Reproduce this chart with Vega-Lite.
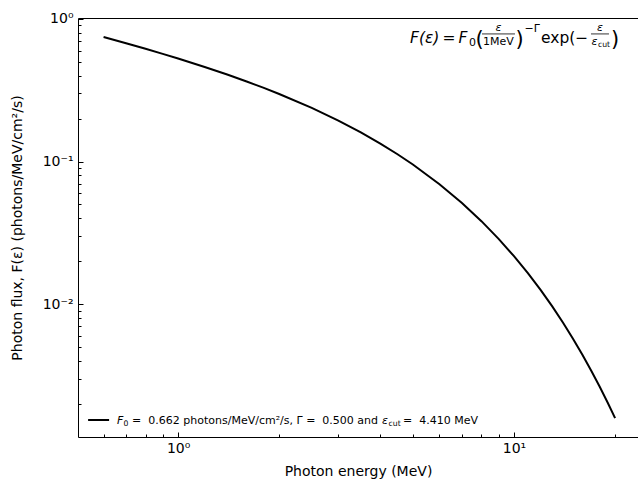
{
  "$schema": "https://vega.github.io/schema/vega-lite/v6.json",
  "width": 560,
  "height": 419,
  "autosize": {"type": "none"},
  "padding": {"left": 78, "top": 18, "right": 0, "bottom": 45},
  "background": "white",
  "config": {
    "font": "DejaVu Sans",
    "view": {"stroke": null},
    "axis": {
      "grid": false,
      "domainColor": "black",
      "domainWidth": 1,
      "tickColor": "black",
      "tickWidth": 1,
      "labelColor": "black",
      "titleColor": "black",
      "labelFont": "DejaVu Sans",
      "titleFont": "DejaVu Sans",
      "labelFontSize": 14,
      "titleFontSize": 14,
      "titleFontWeight": "normal",
      "labelOverlap": false,
      "labelFlush": false
    },
    "text": {"color": "black", "font": "DejaVu Sans"}
  },
  "resolve": {"axis": {"x": "independent", "y": "independent"}},
  "layer": [
    {
      "data": {"values": [
        {"energy": 0.6, "flux": 0.74592},
        {"energy": 0.7, "flux": 0.67511},
        {"energy": 0.8, "flux": 0.61734},
        {"energy": 0.9, "flux": 0.56899},
        {"energy": 1.0, "flux": 0.52769},
        {"energy": 1.2, "flux": 0.46035},
        {"energy": 1.4, "flux": 0.40731},
        {"energy": 1.6, "flux": 0.36411},
        {"energy": 1.8, "flux": 0.32807},
        {"energy": 2.0, "flux": 0.29744},
        {"energy": 2.5, "flux": 0.23752},
        {"energy": 3.0, "flux": 0.19358},
        {"energy": 3.5, "flux": 0.16001},
        {"energy": 4.0, "flux": 0.13363},
        {"energy": 4.5, "flux": 0.11248},
        {"energy": 5.0, "flux": 0.09527},
        {"energy": 6.0, "flux": 0.06933},
        {"energy": 7.0, "flux": 0.05117},
        {"energy": 8.0, "flux": 0.03815},
        {"energy": 9.0, "flux": 0.02867},
        {"energy": 10.0, "flux": 0.02168},
        {"energy": 11.0, "flux": 0.01648},
        {"energy": 12.0, "flux": 0.012575},
        {"energy": 13.0, "flux": 0.00963},
        {"energy": 14.0, "flux": 0.007397},
        {"energy": 15.0, "flux": 0.005697},
        {"energy": 16.0, "flux": 0.004396},
        {"energy": 17.0, "flux": 0.003399},
        {"energy": 18.0, "flux": 0.002634},
        {"energy": 19.0, "flux": 0.002043},
        {"energy": 20.0, "flux": 0.001587}
      ]},
      "mark": {"type": "line", "color": "black", "strokeWidth": 2},
      "encoding": {
        "x": {
          "field": "energy", "type": "quantitative",
          "scale": {"type": "log", "domain": [0.5035, 23.4], "nice": false, "zero": false},
          "axis": {
            "orient": "bottom",
            "values": [1, 10],
            "labelExpr": "datum.value == 1 ? '10⁰' : '10¹'",
            "tickSize": -5,
            "labelPadding": 9,
            "title": "Photon energy (MeV)",
            "titlePadding": 9
          }
        },
        "y": {
          "field": "flux", "type": "quantitative",
          "scale": {"type": "log", "domain": [0.001169, 1.015], "nice": false, "zero": false},
          "axis": {
            "orient": "left",
            "values": [0.01, 0.1, 1],
            "labelExpr": "datum.value == 1 ? '10⁰' : datum.value == 0.1 ? '10⁻¹' : '10⁻²'",
            "tickSize": -5,
            "labelPadding": 10,
            "title": "Photon flux, F(ε) (photons/MeV/cm²/s)",
            "titlePadding": 18
          }
        }
      }
    },
    {
      "data": {"values": [{"energy": 1, "flux": 0.1}]},
      "mark": {"type": "point", "opacity": 0},
      "encoding": {
        "x": {"field": "energy", "type": "quantitative",
          "axis": {"orient": "bottom", "values": [0.6, 0.7, 0.8, 0.9, 2, 3, 4, 5, 6, 7, 8, 9, 20], "labels": false, "domain": false, "tickSize": -3, "title": null}},
        "y": {"field": "flux", "type": "quantitative",
          "axis": {"orient": "left", "values": [0.002, 0.003, 0.004, 0.005, 0.006, 0.007, 0.008, 0.009, 0.02, 0.03, 0.04, 0.05, 0.06, 0.07, 0.08, 0.09, 0.2, 0.3, 0.4, 0.5, 0.6, 0.7, 0.8, 0.9], "labels": false, "domain": false, "tickSize": -3, "title": null}}
      }
    },
    {
      "data": {"values": [{"energy": 1}]},
      "mark": {"type": "point", "opacity": 0},
      "encoding": {
        "x": {"field": "energy", "type": "quantitative",
          "axis": {"orient": "top", "labels": false, "ticks": false, "title": null, "domain": true}}
      }
    },
    {
      "data": {"values": [{"t": "F(ε)\u2009=\u2009F"}]},
      "mark": {"type": "text", "align": "left", "baseline": "alphabetic", "fontSize": 15.5, "fontStyle": "italic", "dx": -104, "dy": 24},
      "encoding": {"x": {"datum": 10, "type": "quantitative", "axis": null}, "y": {"datum": 1, "type": "quantitative", "axis": null}, "text": {"field": "t"}}
    },
    {
      "data": {"values": [{"t": "0"}]},
      "mark": {"type": "text", "align": "left", "baseline": "alphabetic", "fontSize": 11, "dx": -45, "dy": 27},
      "encoding": {"x": {"datum": 10, "type": "quantitative", "axis": null}, "y": {"datum": 1, "type": "quantitative", "axis": null}, "text": {"field": "t"}}
    },
    {
      "data": {"values": [{"t": "("}]},
      "mark": {"type": "text", "align": "left", "baseline": "alphabetic", "fontSize": 21, "dx": -38.5, "dy": 27},
      "encoding": {"x": {"datum": 10, "type": "quantitative", "axis": null}, "y": {"datum": 1, "type": "quantitative", "axis": null}, "text": {"field": "t"}}
    },
    {
      "data": {"values": [{"t": "ε"}]},
      "mark": {"type": "text", "align": "center", "baseline": "alphabetic", "fontSize": 11, "fontStyle": "italic", "dx": -15.5, "dy": 12.5},
      "encoding": {"x": {"datum": 10, "type": "quantitative", "axis": null}, "y": {"datum": 1, "type": "quantitative", "axis": null}, "text": {"field": "t"}}
    },
    {
      "data": {"values": [{"t": "bar"}]},
      "mark": {"type": "rule", "color": "black", "strokeWidth": 0.8, "xOffset": -32, "x2Offset": 1, "yOffset": 15},
      "encoding": {"x": {"datum": 10, "type": "quantitative", "axis": null}, "x2": {"datum": 10}, "y": {"datum": 1, "type": "quantitative", "axis": null}}
    },
    {
      "data": {"values": [{"t": "1MeV"}]},
      "mark": {"type": "text", "align": "center", "baseline": "alphabetic", "fontSize": 11, "dx": -15.5, "dy": 26},
      "encoding": {"x": {"datum": 10, "type": "quantitative", "axis": null}, "y": {"datum": 1, "type": "quantitative", "axis": null}, "text": {"field": "t"}}
    },
    {
      "data": {"values": [{"t": ")"}]},
      "mark": {"type": "text", "align": "left", "baseline": "alphabetic", "fontSize": 21, "dx": 1.5, "dy": 27},
      "encoding": {"x": {"datum": 10, "type": "quantitative", "axis": null}, "y": {"datum": 1, "type": "quantitative", "axis": null}, "text": {"field": "t"}}
    },
    {
      "data": {"values": [{"t": "−Γ"}]},
      "mark": {"type": "text", "align": "left", "baseline": "alphabetic", "fontSize": 11, "dx": 10.5, "dy": 13},
      "encoding": {"x": {"datum": 10, "type": "quantitative", "axis": null}, "y": {"datum": 1, "type": "quantitative", "axis": null}, "text": {"field": "t"}}
    },
    {
      "data": {"values": [{"t": "exp(−"}]},
      "mark": {"type": "text", "align": "left", "baseline": "alphabetic", "fontSize": 15.5, "dx": 27, "dy": 24},
      "encoding": {"x": {"datum": 10, "type": "quantitative", "axis": null}, "y": {"datum": 1, "type": "quantitative", "axis": null}, "text": {"field": "t"}}
    },
    {
      "data": {"values": [{"t": "ε"}]},
      "mark": {"type": "text", "align": "center", "baseline": "alphabetic", "fontSize": 11, "fontStyle": "italic", "dx": 86, "dy": 12.5},
      "encoding": {"x": {"datum": 10, "type": "quantitative", "axis": null}, "y": {"datum": 1, "type": "quantitative", "axis": null}, "text": {"field": "t"}}
    },
    {
      "data": {"values": [{"t": "bar"}]},
      "mark": {"type": "rule", "color": "black", "strokeWidth": 0.8, "xOffset": 77, "x2Offset": 95, "yOffset": 15},
      "encoding": {"x": {"datum": 10, "type": "quantitative", "axis": null}, "x2": {"datum": 10}, "y": {"datum": 1, "type": "quantitative", "axis": null}}
    },
    {
      "data": {"values": [{"t": "ε"}]},
      "mark": {"type": "text", "align": "left", "baseline": "alphabetic", "fontSize": 11, "fontStyle": "italic", "dx": 77.5, "dy": 26},
      "encoding": {"x": {"datum": 10, "type": "quantitative", "axis": null}, "y": {"datum": 1, "type": "quantitative", "axis": null}, "text": {"field": "t"}}
    },
    {
      "data": {"values": [{"t": "cut"}]},
      "mark": {"type": "text", "align": "left", "baseline": "alphabetic", "fontSize": 7.7, "dx": 84, "dy": 28},
      "encoding": {"x": {"datum": 10, "type": "quantitative", "axis": null}, "y": {"datum": 1, "type": "quantitative", "axis": null}, "text": {"field": "t"}}
    },
    {
      "data": {"values": [{"t": ")"}]},
      "mark": {"type": "text", "align": "left", "baseline": "alphabetic", "fontSize": 21, "dx": 97, "dy": 27},
      "encoding": {"x": {"datum": 10, "type": "quantitative", "axis": null}, "y": {"datum": 1, "type": "quantitative", "axis": null}, "text": {"field": "t"}}
    },
    {
      "data": {"values": [{"t": "legend line"}]},
      "mark": {"type": "rule", "color": "black", "strokeWidth": 2, "xOffset": -90, "x2Offset": -69, "yOffset": -17},
      "encoding": {"x": {"datum": 1, "type": "quantitative", "axis": null}, "x2": {"datum": 1}, "y": {"datum": 0.001169, "type": "quantitative", "axis": null}}
    },
    {
      "data": {"values": [{"t": "F"}]},
      "mark": {"type": "text", "align": "left", "baseline": "alphabetic", "fontSize": 11, "fontStyle": "italic", "dx": -61, "dy": -13},
      "encoding": {"x": {"datum": 1, "type": "quantitative", "axis": null}, "y": {"datum": 0.001169, "type": "quantitative", "axis": null}, "text": {"field": "t"}}
    },
    {
      "data": {"values": [{"t": "0"}]},
      "mark": {"type": "text", "align": "left", "baseline": "alphabetic", "fontSize": 7.7, "dx": -54.5, "dy": -11},
      "encoding": {"x": {"datum": 1, "type": "quantitative", "axis": null}, "y": {"datum": 0.001169, "type": "quantitative", "axis": null}, "text": {"field": "t"}}
    },
    {
      "data": {"values": [{"t": "=\u00a0\u00a00.662 photons/MeV/cm²/s, Γ =\u00a0\u00a00.500 and"}]},
      "mark": {"type": "text", "align": "left", "baseline": "alphabetic", "fontSize": 11, "dx": -46, "dy": -13},
      "encoding": {"x": {"datum": 1, "type": "quantitative", "axis": null}, "y": {"datum": 0.001169, "type": "quantitative", "axis": null}, "text": {"field": "t"}}
    },
    {
      "data": {"values": [{"t": "ε"}]},
      "mark": {"type": "text", "align": "left", "baseline": "alphabetic", "fontSize": 11, "fontStyle": "italic", "dx": 204, "dy": -13},
      "encoding": {"x": {"datum": 1, "type": "quantitative", "axis": null}, "y": {"datum": 0.001169, "type": "quantitative", "axis": null}, "text": {"field": "t"}}
    },
    {
      "data": {"values": [{"t": "cut"}]},
      "mark": {"type": "text", "align": "left", "baseline": "alphabetic", "fontSize": 7.7, "dx": 210.5, "dy": -11},
      "encoding": {"x": {"datum": 1, "type": "quantitative", "axis": null}, "y": {"datum": 0.001169, "type": "quantitative", "axis": null}, "text": {"field": "t"}}
    },
    {
      "data": {"values": [{"t": "=\u00a0\u00a04.410 MeV"}]},
      "mark": {"type": "text", "align": "right", "baseline": "alphabetic", "fontSize": 11, "dx": 300, "dy": -13},
      "encoding": {"x": {"datum": 1, "type": "quantitative", "axis": null}, "y": {"datum": 0.001169, "type": "quantitative", "axis": null}, "text": {"field": "t"}}
    }
  ]
}
